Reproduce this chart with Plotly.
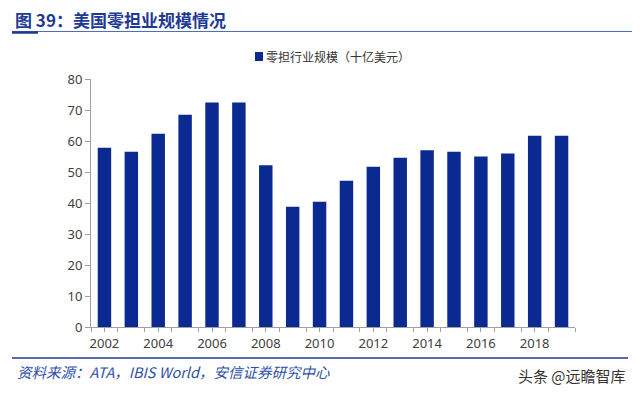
import plotly.graph_objects as go

years = list(range(2002, 2020))
values = [57.8, 56.5, 62.3, 68.5, 72.4, 72.4, 52.2, 38.8, 40.4, 47.2,
          51.7, 54.6, 57.0, 56.5, 55.0, 56.0, 61.7, 61.7]
series_name = "零担行业规模（十亿美元）"
x_tick_labels = [str(y) for y in range(2002, 2020, 2)]
y_ticks = list(range(0, 81, 10))

# page body has an 8px default margin; work in reference pixel coords and offset
O = 8
W, H = 624, 378
L, R, T, B = 91 - O, 575 - O, 79 - O, 327 - O

def px(x):
    return (x - O - L) / (R - L)

def py(y):
    return (B - (y - O)) / (B - T)

bar_color = "#0B2A91"
fig = go.Figure()
fig.add_trace(go.Bar(
    x=years, y=values, name=series_name,
    marker=dict(color=bar_color, line=dict(width=0)),
    width=0.5, showlegend=False,
))

cjk = "Noto Sans CJK SC"
fig.update_layout(
    width=W, height=H,
    margin=dict(l=L, r=W - R, t=T, b=H - B, pad=0, autoexpand=False),
    paper_bgcolor="white", plot_bgcolor="white",
    showlegend=False,
    xaxis=dict(range=[2001.5, 2019.5], tickmode="array",
               tickvals=[int(t) for t in x_tick_labels], ticktext=x_tick_labels,
               showline=True, linecolor="#A0A0A0", linewidth=1,
               ticks="outside", ticklen=4, tickcolor="#A0A0A0",
               minor=dict(ticks="outside", ticklen=4, tickcolor="#A0A0A0", dtick=1, tick0=2001.5),
               showgrid=False, zeroline=False,
               tickfont=dict(family="Noto Sans", size=13, color="#404040")),
    yaxis=dict(range=[0, 80], tickvals=y_ticks,
               showline=True, linecolor="#A0A0A0", linewidth=1,
               ticks="outside", ticklen=5, tickcolor="#A0A0A0",
               showgrid=False, zeroline=False,
               tickfont=dict(family="Noto Sans", size=13, color="#404040")),
)

shapes = [
    dict(type="line", xref="paper", yref="paper", x0=px(12), x1=px(640), y0=py(31.5), y1=py(31.5),
         line=dict(color="#4A6FC0", width=1.2)),
    dict(type="line", xref="paper", yref="paper", x0=px(12), x1=px(38), y0=py(32.5), y1=py(32.5),
         line=dict(color="#1F3A93", width=2.5)),
    dict(type="line", xref="paper", yref="paper", x0=px(12), x1=px(628), y0=py(358), y1=py(358),
         line=dict(color="#1F3A93", width=1.5)),
    # legend swatch
    dict(type="rect", xref="paper", yref="paper", x0=px(255), x1=px(263), y0=py(52), y1=py(61),
         fillcolor=bar_color, line=dict(width=0)),
]
fig.update_layout(shapes=shapes)

annotations = [
    dict(text="<b>图 39：美国零担业规模情况</b>", xref="paper", yref="paper",
         x=px(14), y=py(19.5), xanchor="left", yanchor="middle", showarrow=False,
         borderpad=0, font=dict(family=cjk, size=17, color="#1F3A93")),
    dict(text=series_name, xref="paper", yref="paper",
         x=px(264), y=py(56.5), xanchor="left", yanchor="middle", showarrow=False,
         font=dict(family=cjk, size=12, color="#333333")),
    dict(text="<i>资料来源：ATA，IBIS World，安信证券研究中心</i>", xref="paper", yref="paper",
         x=px(15), y=py(371), xanchor="left", yanchor="middle", showarrow=False,
         font=dict(family=cjk, size=14.5, color="#2F4FA8")),
    dict(text="头条 @远瞻智库", xref="paper", yref="paper",
         x=px(628), y=py(375), xanchor="right", yanchor="middle", showarrow=False,
         font=dict(family=cjk, size=15, color="#333333")),
]
fig.update_layout(annotations=annotations)

fig.write_html("out.html")
